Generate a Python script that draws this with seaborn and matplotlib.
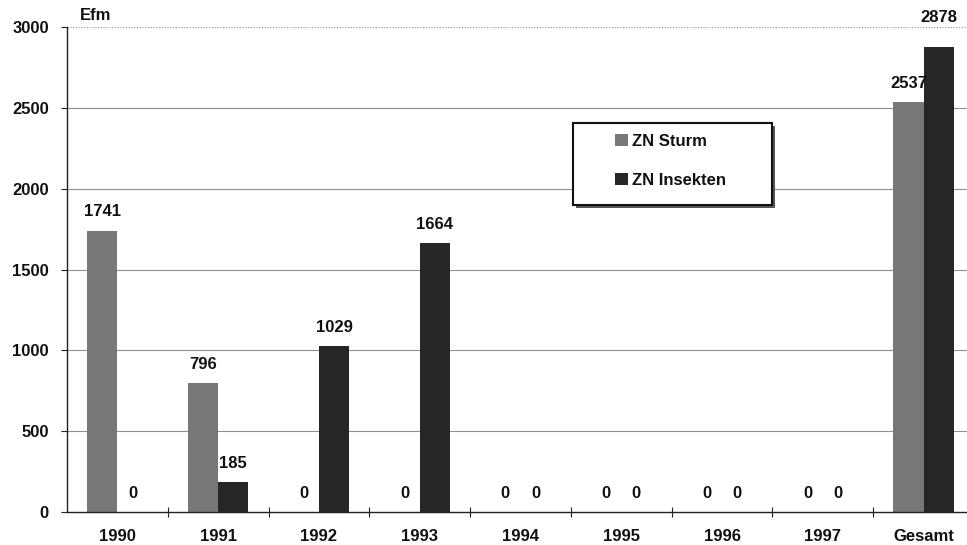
import matplotlib
matplotlib.use("Agg")
import matplotlib.pyplot as plt
import seaborn as sns
import pandas as pd
from matplotlib.patches import Patch, Rectangle

# Zwangsnutzungen (Efm) nach Jahr und Ursache
categories = ["1990", "1991", "1992", "1993", "1994", "1995", "1996", "1997", "Gesamt"]
sturm = [1741, 796, 0, 0, 0, 0, 0, 0, 2537]
insekten = [0, 185, 1029, 1664, 0, 0, 0, 0, 2878]
series_names = ["ZN Sturm", "ZN Insekten"]
y_ticks = [0, 500, 1000, 1500, 2000, 2500, 3000]

colors = {"ZN Sturm": "#777777", "ZN Insekten": "#262626"}
FS = 12

df = pd.DataFrame({
    "Jahr": categories * 2,
    "Efm": sturm + insekten,
    "Ursache": [series_names[0]] * len(categories) + [series_names[1]] * len(categories),
})

sns.set_theme(style="white")
plt.rcParams["font.family"] = ["Liberation Sans", "DejaVu Sans"]
plt.rcParams["font.weight"] = "bold"

fig = plt.figure(figsize=(9.67, 5.45), dpi=100)
W, H = 967, 545
ax = fig.add_axes([67 / W, 33 / H, (974 - 67) / W, 485 / H])

sns.barplot(data=df, x="Jahr", y="Efm", hue="Ursache", order=categories,
            hue_order=series_names, palette=colors, width=0.6, gap=0,
            dodge=True, saturation=1, linewidth=0, legend=False, ax=ax)

ax.set_xlim(-0.5, len(categories) - 0.5)
ax.set_ylim(0, 3000)
ax.set_yticks(y_ticks)
ax.set_xlabel("")
ax.set_ylabel("")

# horizontal grid lines
for v in y_ticks[1:]:
    ax.axhline(v, color="#909090", lw=0.8,
               ls=(0, (1, 1.5)) if v == 3000 else "-", zorder=0)

for side in ["top", "right"]:
    ax.spines[side].set_visible(False)
for side in ["left", "bottom"]:
    ax.spines[side].set_color("#222222")
    ax.spines[side].set_linewidth(1.0)

# tick marks between categories crossing the x axis
ax.set_xticks([i + 0.5 for i in range(len(categories) - 1)], minor=True)
ax.tick_params(axis="x", which="minor", direction="inout", length=7, width=0.8,
               color="#222222", bottom=True)
ax.tick_params(axis="x", which="major", length=0, pad=12.5, labelsize=FS)
ax.tick_params(axis="y", which="major", direction="out", length=4, width=0.8,
               color="#222222", left=True, pad=9, labelsize=FS)
for lab in ax.get_xticklabels() + ax.get_yticklabels():
    lab.set_fontweight("bold")
    lab.set_color("#111111")

# value labels above bars
for container, values in zip(ax.containers, [sturm, insekten]):
    for bar, v in zip(container, values):
        off = 16 if v > 2800 else 8
        ax.annotate(f"{v}", (bar.get_x() + bar.get_width() / 2, bar.get_height()),
                    xytext=(0, off), textcoords="offset points",
                    ha="center", va="bottom", fontsize=FS, fontweight="bold",
                    color="#111111", annotation_clip=False)

fig.text(80 / W, 1 - 15 / H, "Efm", ha="left", va="center",
         fontsize=FS, fontweight="bold", color="#111111")

# legend box with a slight shadow
fig.patches.append(Rectangle((576 / W, 1 - 208 / H), 199 / W, 82 / H,
                             transform=fig.transFigure, facecolor="#555555",
                             edgecolor="none", zorder=4))
fig.patches.append(Rectangle((573 / W, 1 - 205 / H), 199 / W, 82 / H,
                             transform=fig.transFigure, facecolor="white",
                             edgecolor="#111111", lw=1.5, zorder=5))

handles = [Patch(facecolor=colors[n], edgecolor="none") for n in series_names]
leg = fig.legend(handles, series_names, loc="upper left",
                 bbox_to_anchor=(615 / W, 1 - 134 / H),
                 frameon=False, handlelength=0.75, handleheight=0.75,
                 handletextpad=0.25, borderpad=0, labelspacing=1.45,
                 borderaxespad=0, prop={"size": FS, "weight": "bold"})
leg.set_zorder(6)
for t in leg.get_texts():
    t.set_color("#111111")

fig.savefig("out.png", dpi=100)
